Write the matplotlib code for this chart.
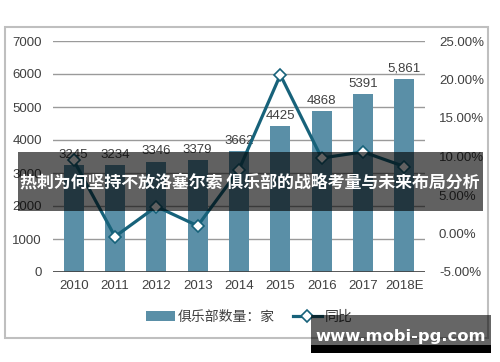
import matplotlib
matplotlib.use("Agg")
import matplotlib.pyplot as plt
from matplotlib.patches import Rectangle
from matplotlib.ticker import FuncFormatter

plt.rcParams['font.family'] = ['Liberation Sans', 'Noto Sans CJK SC', 'DejaVu Sans']

years = ["2010", "2011", "2012", "2013", "2014", "2015", "2016", "2017", "2018E"]
clubs = [3245, 3234, 3346, 3379, 3662, 4425, 4868, 5391, 5861]
club_labels = ["3245", "3234", "3346", "3379", "3662", "4425", "4868", "5391", "5,861"]
yoy = [9.5, -0.4, 3.5, 1.0, 8.3, 20.6, 9.8, 10.6, 8.7]
left_ticks = [0, 1000, 2000, 3000, 4000, 5000, 6000, 7000]
right_ticks = [-5, 0, 5, 10, 15, 20, 25]

W, H = 500, 362
fig = plt.figure(figsize=(5.0, 3.62), dpi=100)

bar_color = "#5A8FA7"
line_color = "#17627A"
text_color = "#404040"

# outer frame
fig.patches.append(Rectangle((5 / W, 1 - 338 / H), 483 / W, 311 / H, transform=fig.transFigure,
                             fill=False, edgecolor="#BFBFBF", linewidth=1.5, zorder=0))

ax = fig.add_axes([53 / W, 1 - 272 / H, 372 / W, 231 / H])
x = list(range(len(years)))
bars = ax.bar(x, clubs, width=0.48, color=bar_color, zorder=2, label="俱乐部数量：家")
ax.set_ylim(0, 7000)
ax.set_xlim(-0.5, len(years) - 0.5)
ax.set_yticks(left_ticks)
ax.set_xticks(x)
ax.set_xticklabels(years)
ax.tick_params(axis='both', length=0, labelsize=9.5, colors=text_color)
ax.tick_params(axis='x', pad=6)
ax.tick_params(axis='y', pad=8)
for s in ax.spines.values():
    s.set_visible(False)
ax.grid(axis='y', color="#9A9A9A", linewidth=1.0, zorder=0)
ax.set_axisbelow(True)
ax.axhline(0, color="#404040", linewidth=1.2, zorder=3)

for xi, v, lab in zip(x, clubs, club_labels):
    ax.annotate(lab, (xi, v), xytext=(0, 3), textcoords="offset points",
                ha="center", va="bottom", fontsize=9.5, color=text_color, zorder=4)

ax2 = ax.twinx()
ax2.set_ylim(-5, 25)
ax2.set_yticks(right_ticks)
ax2.yaxis.set_major_formatter(FuncFormatter(lambda v, p: f"{v:.2f}%"))
ax2.tick_params(axis='y', length=0, labelsize=9.5, colors=text_color, pad=10)
for s in ax2.spines.values():
    s.set_visible(False)
ln, = ax2.plot(x, yoy, color=line_color, linewidth=2.3, marker="D", markersize=6.5,
               markerfacecolor="white", markeredgecolor=line_color, markeredgewidth=1.2,
               zorder=5, label="同比")

leg = fig.legend(handles=[bars, ln], labels=["俱乐部数量：家", "同比"], loc="center",
                 bbox_to_anchor=(249 / W, 1 - 317 / H), ncol=2, frameon=False,
                 fontsize=10, handlelength=2.1, handletextpad=0.2, columnspacing=1.3,
                 labelcolor=text_color)

# title banner overlay
fig.patches.append(Rectangle((18 / W, 1 - 211 / H), 465 / W, 59 / H, transform=fig.transFigure,
                             facecolor="black", alpha=0.62, edgecolor="none", zorder=10))
fig.text(249.5 / W, 1 - 183 / H, "热刺为何坚持不放洛塞尔索 俱乐部的战略考量与未来布局分析",
         ha="center", va="center", color="white", fontsize=12.2, fontweight="bold",
         family=['Noto Sans CJK SC', 'DejaVu Sans'], zorder=11)

# watermark
fig.patches.append(Rectangle((311 / W, 1 - 345 / H), 180 / W, 30 / H, transform=fig.transFigure,
                             facecolor="black", alpha=0.6, edgecolor="none", zorder=10))
fig.patches.append(Rectangle((311 / W, 1 - 353 / H), 180 / W, 8 / H, transform=fig.transFigure,
                             facecolor="black", edgecolor="none", zorder=10))
fig.text(400.5 / W, 1 - 337 / H, "www.mobi-pg.com", ha="center", va="center", color="white",
         fontsize=11.8, fontweight="bold", family=['DejaVu Sans'], zorder=11)

fig.savefig("out.png", dpi=100)
